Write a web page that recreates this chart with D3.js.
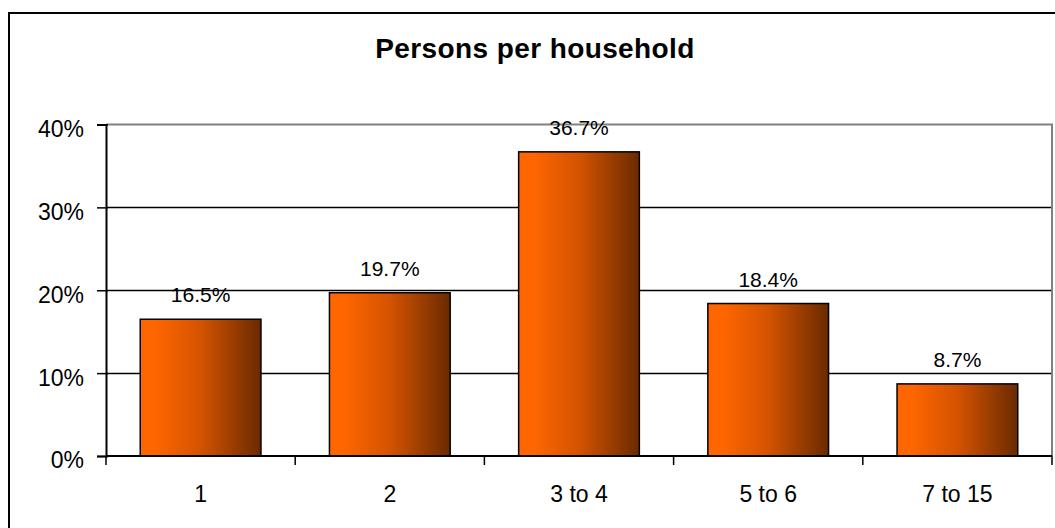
<!DOCTYPE html>
<html>
<head>
<meta charset="utf-8">
<script src="https://cdn.jsdelivr.net/npm/d3@7"></script>
<style>
  body { margin: 0; background: #fff; }
  svg { display: block; font-family: Arial, "Liberation Sans", sans-serif; }
</style>
</head>
<body>
<svg id="drawing_region"></svg>
<script>
const categories = ["1", "2", "3 to 4", "5 to 6", "7 to 15"];
const shares = [16.5, 19.7, 36.7, 18.4, 8.7];
const y_ticks = [0, 10, 20, 30, 40];
const title_text = "Persons per household";

const width = 1055, height = 528;
const plot = {left: 106, right: 1052, top: 124.5, bottom: 456};

const svg = d3.select('#drawing_region')
    .attr('width', width)
    .attr('height', height);

// outer chart frame
svg.append('rect')
    .attr('x', 9).attr('y', 13)
    .attr('width', width + 10).attr('height', height + 10)
    .attr('fill', 'none')
    .attr('stroke', '#000')
    .attr('stroke-width', 2);

const defs = svg.append('defs');
const grad = defs.append('linearGradient')
    .attr('id', 'bar_grad')
    .attr('x1', '0%').attr('x2', '100%')
    .attr('y1', '0%').attr('y2', '0%');
grad.append('stop').attr('offset', '0%').attr('stop-color', '#ff6600');
grad.append('stop').attr('offset', '12%').attr('stop-color', '#ff6600');
grad.append('stop').attr('offset', '50%').attr('stop-color', '#d45300');
grad.append('stop').attr('offset', '100%').attr('stop-color', '#6a2a00');

const xscale = d3.scaleBand()
    .domain(categories)
    .range([plot.left, plot.right])
    .paddingInner(0.362)
    .paddingOuter(0.181);

const yscale = d3.scaleLinear()
    .domain([0, 40])
    .range([plot.bottom, plot.top]);

// gridlines
svg.append('g')
    .selectAll('line')
    .data(y_ticks.filter(d => d > 0 && d < 40))
    .join('line')
    .attr('x1', plot.left).attr('x2', plot.right)
    .attr('y1', d => Math.round(yscale(d)) + 0.5).attr('y2', d => Math.round(yscale(d)) + 0.5)
    .attr('stroke', '#000')
    .attr('stroke-width', 1.5);

// plot area border (top and right are grey)
svg.append('path')
    .attr('d', `M${plot.left},${yscale(40)}H${plot.right}V${plot.bottom}`)
    .attr('fill', 'none')
    .attr('stroke', '#808080')
    .attr('stroke-width', 2);

// bars
svg.append('g')
    .selectAll('rect')
    .data(shares)
    .join('rect')
    .attr('x', (d, i) => xscale(categories[i]))
    .attr('y', d => yscale(d))
    .attr('width', xscale.bandwidth())
    .attr('height', d => yscale(0) - yscale(d))
    .attr('fill', 'url(#bar_grad)')
    .attr('stroke', '#000')
    .attr('stroke-width', 1.5);

// value labels
svg.append('g')
    .selectAll('text')
    .data(shares)
    .join('text')
    .attr('x', (d, i) => xscale(categories[i]) + xscale.bandwidth() / 2)
    .attr('y', d => yscale(d) - 17)
    .attr('text-anchor', 'middle')
    .attr('font-size', '21px')
    .attr('fill', '#000')
    .text(d => d.toFixed(1) + '%');

// y axis
const yaxis = d3.axisLeft(yscale)
    .tickValues(y_ticks)
    .tickSize(9)
    .tickPadding(13)
    .tickFormat(d => d + '%');

const yaxis_group = svg.append('g')
    .attr('transform', `translate(${plot.left}, 0)`)
    .call(yaxis);
yaxis_group.select('.domain')
    .attr('stroke', '#000')
    .attr('stroke-width', 2);
yaxis_group.selectAll('.tick line')
    .attr('stroke-width', 1.5)
    .attr('x2', -9).attr('x1', 2);
yaxis_group.selectAll('.tick text')
    .attr('font-size', '23px')
    .attr('font-family', 'Arial, "Liberation Sans", sans-serif')
    .attr('fill', '#000')
    .attr('dy', '0.52em');

// x axis
const xaxis = d3.axisBottom(xscale)
    .tickSize(0)
    .tickPadding(30);

const xaxis_group = svg.append('g')
    .attr('transform', `translate(0, ${plot.bottom})`)
    .call(xaxis);
xaxis_group.select('.domain').remove();
xaxis_group.append('line')
    .attr('x1', plot.left).attr('x2', plot.right)
    .attr('stroke', '#000')
    .attr('stroke-width', 2);
xaxis_group.selectAll('.tick text')
    .attr('font-size', '23px')
    .attr('font-family', 'Arial, "Liberation Sans", sans-serif')
    .attr('fill', '#000');

// category boundary ticks
const step = xscale.step();
const boundaries = categories.map(c => xscale(c) - step * xscale.paddingInner() / 2)
    .concat([plot.right]);
xaxis_group.selectAll('line.boundary')
    .data(boundaries)
    .join('line')
    .attr('class', 'boundary')
    .attr('x1', d => d).attr('x2', d => d)
    .attr('y1', 0).attr('y2', 9)
    .attr('stroke', '#000')
    .attr('stroke-width', 1.5);

// title
svg.append('text')
    .attr('x', 535)
    .attr('y', 58)
    .attr('text-anchor', 'middle')
    .attr('font-size', '28px')
    .attr('font-weight', 'bold')
    .attr('letter-spacing', '0.4px')
    .attr('fill', '#000')
    .text(title_text);
</script>
</body>
</html>
